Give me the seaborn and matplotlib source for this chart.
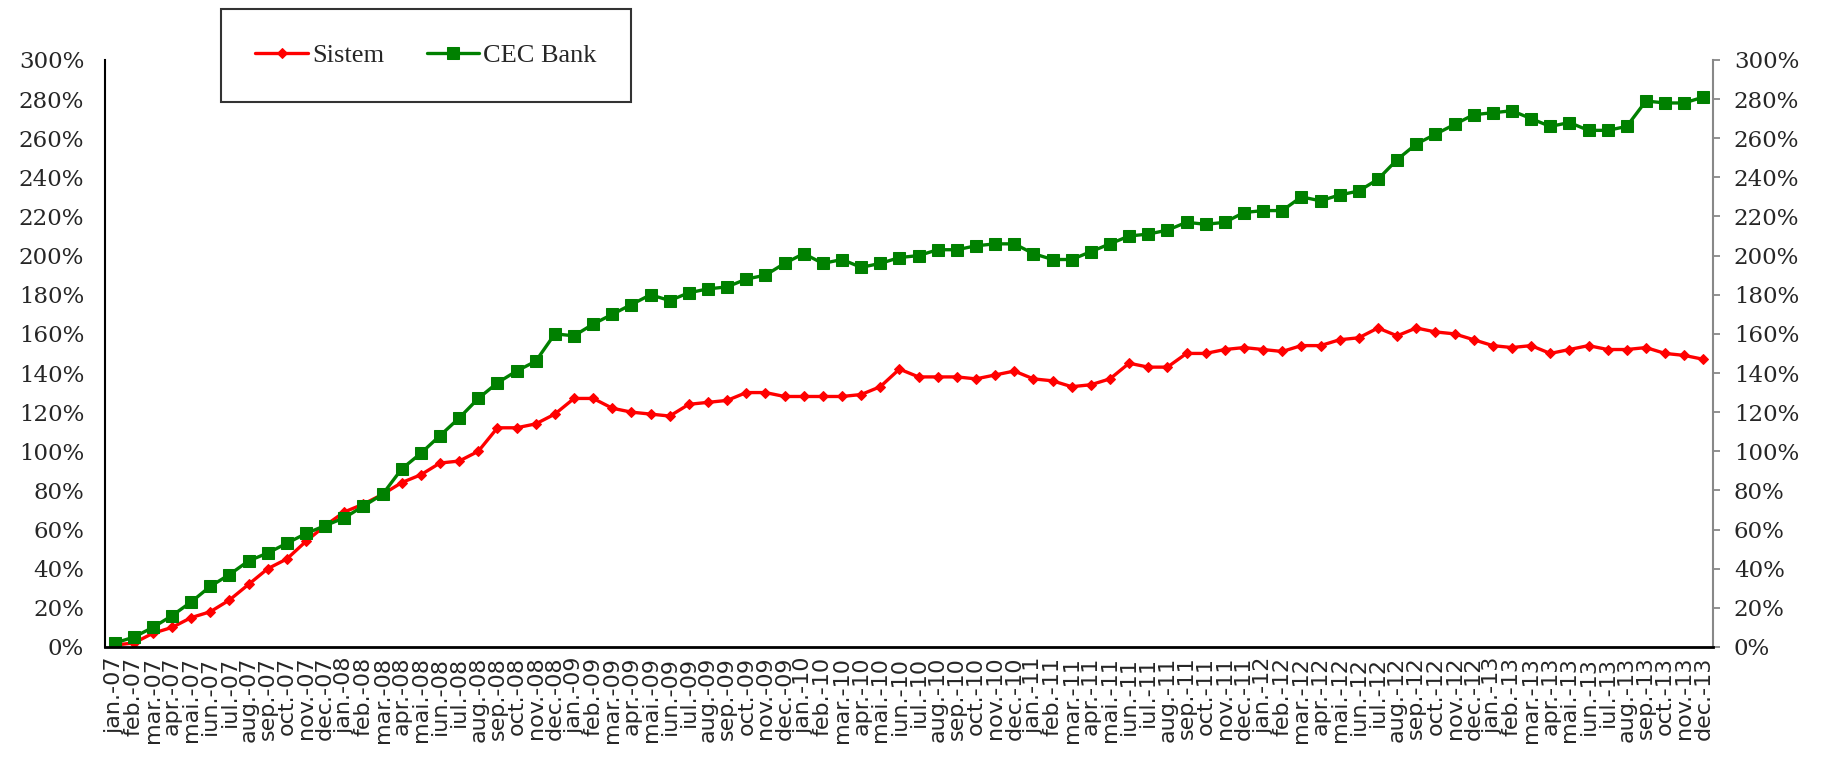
import matplotlib
matplotlib.use('Agg')
import matplotlib.pyplot as plt
import seaborn as sns
import pandas as pd
from matplotlib.ticker import FixedLocator, FuncFormatter

sns.set_style('white')

# month names and years used for the x tick labels
months = ['jan.', 'feb.', 'mar.', 'apr.', 'mai.', 'iun.',
          'iul.', 'aug.', 'sep.', 'oct.', 'nov.', 'dec.']
years = ['07', '08', '09', '10', '11', '12', '13']
labels = [m + '-' + y for y in years for m in months]

# cumulative growth, %
sistem = [1, 2, 7, 10, 15, 18, 24, 32, 40, 45, 54, 62,
          69, 73, 78, 84, 88, 94, 95, 100, 112, 112, 114, 119,
          127, 127, 122, 120, 119, 118, 124, 125, 126, 130, 130, 128,
          128, 128, 128, 129, 133, 142, 138, 138, 138, 137, 139, 141,
          137, 136, 133, 134, 137, 145, 143, 143, 150, 150, 152, 153,
          152, 151, 154, 154, 157, 158, 163, 159, 163, 161, 160, 157,
          154, 153, 154, 150, 152, 154, 152, 152, 153, 150, 149, 147]
cec = [2, 5, 10, 16, 23, 31, 37, 44, 48, 53, 58, 62,
       66, 72, 78, 91, 99, 108, 117, 127, 135, 141, 146, 160,
       159, 165, 170, 175, 180, 177, 181, 183, 184, 188, 190, 196,
       201, 196, 198, 194, 196, 199, 200, 203, 203, 205, 206, 206,
       201, 198, 198, 202, 206, 210, 211, 213, 217, 216, 217, 222,
       223, 223, 230, 228, 231, 233, 239, 249, 257, 262, 267, 272,
       273, 274, 270, 266, 268, 264, 264, 266, 279, 278, 278, 281]

df = pd.DataFrame({'idx': range(len(labels)), 'Sistem': sistem, 'CEC Bank': cec})

fig = plt.figure(figsize=(18.24, 7.68), dpi=100)
ax = fig.add_axes([0.0576, 0.1576, 0.8815, 0.7644])

sns.lineplot(x='idx', y='Sistem', data=df, ax=ax, color='#ff0000', lw=2.4,
             marker='D', markersize=5, markeredgecolor='#ff0000', label='Sistem')
sns.lineplot(x='idx', y='CEC Bank', data=df, ax=ax, color='#008000', lw=2.4,
             marker='s', markersize=8, markeredgecolor='#008000', label='CEC Bank')

ax.set_xlim(-0.5, len(labels) - 0.5)
ax.set_ylim(0, 300)
ax.set_xlabel('')
ax.set_ylabel('')

# x axis: labels at months, tick marks between months
ax.xaxis.set_major_locator(FixedLocator(range(len(labels))))
ax.set_xticklabels(labels, rotation=90, fontsize=16, family='DejaVu Sans',
                   va='top', ha='center')
ax.xaxis.set_minor_locator(FixedLocator([i - 0.5 for i in range(len(labels) + 1)]))
ax.tick_params(axis='x', which='major', length=0, pad=7)
ax.tick_params(axis='x', which='minor', length=7, width=1.3, color='black', direction='out')

# y axis: labels on both sides
ax.set_yticks(range(0, 301, 20))
ax.yaxis.set_major_formatter(FuncFormatter(lambda v, p: '%d%%' % v))
ax.tick_params(axis='y', left=False, right=True, labelleft=True, labelright=True,
               length=5, width=1.3, color='#888888', direction='out', pad=10,
               labelsize=16.5)
for lab in ax.yaxis.get_majorticklabels():
    lab.set_family('DejaVu Serif')

ax.spines['top'].set_visible(False)
ax.spines['left'].set_color('black')
ax.spines['left'].set_linewidth(1.5)
ax.spines['bottom'].set_color('black')
ax.spines['bottom'].set_linewidth(2)
ax.spines['right'].set_color('#888888')
ax.spines['right'].set_linewidth(1.5)

leg = ax.legend(loc='center', bbox_to_anchor=(0.2336, 0.9277), bbox_transform=fig.transFigure,
                ncol=2, frameon=True, fancybox=False, edgecolor='black',
                prop={'family': 'Liberation Serif', 'size': 19},
                handlelength=2.0, handletextpad=0.15, columnspacing=1.6, borderpad=1.3)
leg.get_frame().set_linewidth(1.5)

fig.savefig('out.png', dpi=100, facecolor='white')
